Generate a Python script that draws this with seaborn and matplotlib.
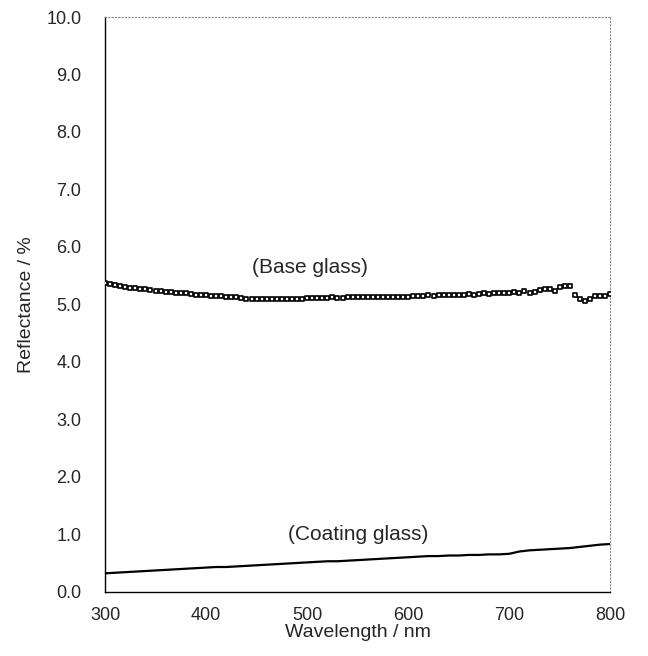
import numpy as np
import pandas as pd
import matplotlib
matplotlib.use("Agg")
import matplotlib.pyplot as plt
import seaborn as sns

# base glass, read every 5 nm
base_wl = list(range(300, 805, 5))
base_refl = [5.37, 5.35, 5.33, 5.32, 5.30, 5.29, 5.28, 5.27, 5.26, 5.25, 5.24,
             5.23, 5.22, 5.21, 5.20, 5.20, 5.19, 5.18, 5.17, 5.16, 5.16,
             5.15, 5.14, 5.14, 5.13, 5.12, 5.12, 5.11, 5.10, 5.10, 5.09,
             5.09, 5.09, 5.10, 5.10, 5.10, 5.10, 5.10, 5.10, 5.10, 5.11,
             5.11, 5.11, 5.11, 5.11, 5.12, 5.11, 5.11, 5.12, 5.12, 5.12,
             5.12, 5.12, 5.12, 5.12, 5.12, 5.13, 5.13, 5.13, 5.13, 5.13,
             5.14, 5.14, 5.15, 5.16, 5.15, 5.16, 5.16, 5.17, 5.16, 5.17,
             5.17, 5.18, 5.17, 5.18, 5.19, 5.18, 5.19, 5.19, 5.20, 5.20,
             5.21, 5.20, 5.24, 5.20, 5.22, 5.25, 5.27, 5.27, 5.24, 5.31,
             5.32, 5.32, 5.16, 5.10, 5.06, 5.09, 5.14, 5.14, 5.15, 5.18]

# coating glass, read every 10 nm
coat_wl = list(range(300, 810, 10))
coat_refl = [0.32, 0.33, 0.34, 0.35, 0.36, 0.37, 0.38, 0.39, 0.40, 0.41,
             0.42, 0.43, 0.43, 0.44, 0.45, 0.46, 0.47, 0.48, 0.49, 0.50,
             0.51, 0.52, 0.53, 0.53, 0.54, 0.55, 0.56, 0.57, 0.58, 0.59,
             0.60, 0.61, 0.62, 0.62, 0.63, 0.63, 0.64, 0.64, 0.65, 0.65,
             0.66, 0.70, 0.72, 0.73, 0.74, 0.75, 0.76, 0.78, 0.80, 0.82, 0.83]

base = pd.DataFrame({'wl': base_wl, 'refl': base_refl})
coat = pd.DataFrame({'wl': coat_wl, 'refl': coat_refl})

sns.set_style("white")
plt.rcParams['font.family'] = ['Liberation Sans', 'DejaVu Sans']

fig, ax = plt.subplots(figsize=(6.48, 6.56), dpi=100)
fig.subplots_adjust(left=0.162, right=0.942, top=0.974, bottom=0.098)

sns.lineplot(data=coat, x='wl', y='refl', color='black', linewidth=1.6, ax=ax)
sns.scatterplot(data=base, x='wl', y='refl', marker='s', s=12, facecolor='white',
                edgecolor='black', linewidth=1.2, ax=ax, zorder=3)

ax.text(503, 5.47, '(Base glass)', ha='center', va='bottom', fontsize=15)
ax.text(550, 0.83, '(Coating glass)', ha='center', va='bottom', fontsize=15)

ax.set_xlim(300, 800)
ax.set_ylim(0, 10)
ax.set_xticks(range(300, 900, 100))
ax.set_yticks(np.arange(0, 10.5, 1.0))
ax.set_yticklabels([f"{v:.1f}" for v in np.arange(0, 10.5, 1.0)])
ax.tick_params(direction='in', length=5, width=0.8, labelsize=13)
ax.tick_params(axis='y', pad=17)
ax.tick_params(axis='x', pad=11)
ax.set_xlabel('Wavelength / nm', fontsize=14, labelpad=0)
ax.set_ylabel('Reflectance / %', fontsize=14, labelpad=8)

for s in ['left', 'bottom']:
    ax.spines[s].set_color('black')
    ax.spines[s].set_linewidth(1.0)
for s in ['top', 'right']:
    ax.spines[s].set_color('#888888')
    ax.spines[s].set_linewidth(0.8)
    ax.spines[s].set_linestyle((0, (1, 2)))

fig.savefig('out.png', dpi=100)
